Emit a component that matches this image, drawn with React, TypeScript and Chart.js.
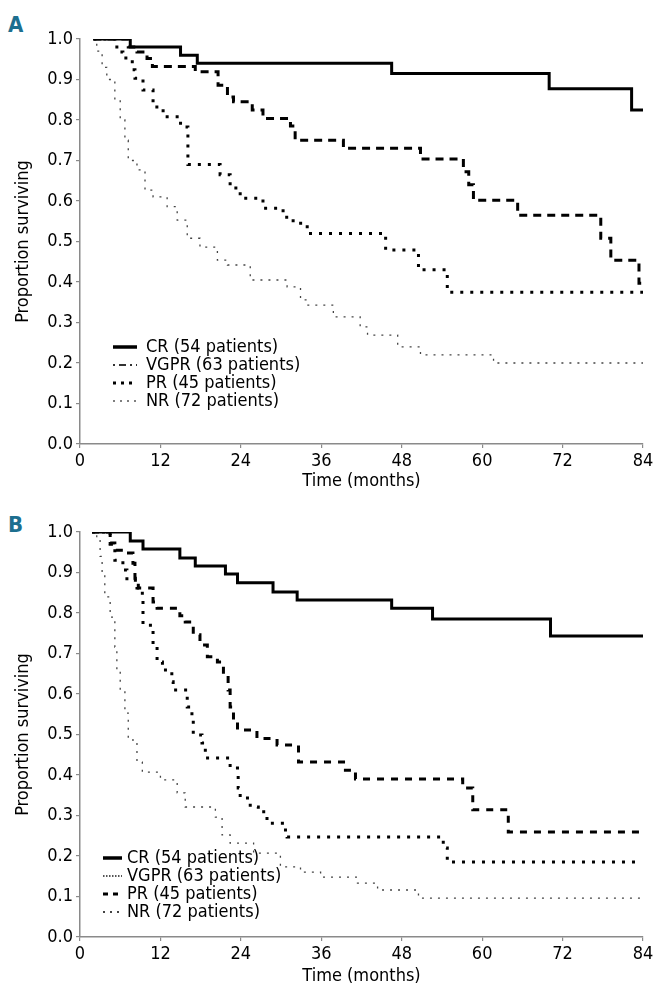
import React, { useEffect, useRef } from 'react';
import { Chart, registerables } from 'chart.js';

Chart.register(...registerables);

const FONT = "'Liberation Sans Narrow', 'DejaVu Sans Condensed', 'Arial Narrow', 'Liberation Sans', sans-serif";

// ---- shared ----
const seriesNames = ['CR (54 patients)', 'VGPR (63 patients)', 'PR (45 patients)', 'NR (72 patients)'];
const xTicks = [0, 12, 24, 36, 48, 60, 72, 84];
const yTicks = [0, 0.1, 0.2, 0.3, 0.4, 0.5, 0.6, 0.7, 0.8, 0.9, 1.0];
const xTitle = 'Time (months)';
const yTitle = 'Proportion surviving';

// ---- Panel A ----
const aCrTime = [2, 7.5, 15, 17.5, 46.5, 70, 82.3, 84];
const aCrSurv = [1.0, 0.98, 0.96, 0.94, 0.915, 0.877, 0.825, 0.825];
const aVgprTime = [2, 7.2, 8.5, 10, 10.8, 17.2, 20.6, 22, 22.9, 25.7, 27.3, 31.4, 32.1, 39.3, 50.8, 57.2, 58, 58.7, 65.3, 77.7, 79.2, 83.4, 84];
const aVgprSurv = [1.0, 0.98, 0.968, 0.952, 0.932, 0.919, 0.886, 0.857, 0.845, 0.825, 0.804, 0.785, 0.75, 0.73, 0.704, 0.672, 0.64, 0.602, 0.565, 0.508, 0.454, 0.397, 0.397];
const aPrTime = [2, 5.5, 6.4, 7.8, 8.2, 9.4, 10.9, 12.4, 15, 16.1, 20.9, 22.4, 23.9, 27.3, 30.3, 31.8, 33.9, 45.6, 50.5, 54.8, 84];
const aPrSurv = [1.0, 0.968, 0.953, 0.924, 0.903, 0.874, 0.832, 0.808, 0.783, 0.69, 0.665, 0.632, 0.607, 0.582, 0.56, 0.545, 0.52, 0.479, 0.43, 0.375, 0.375];
const aNrTime = [2, 2.5, 3.3, 4, 5.2, 6, 6.7, 7.2, 8.5, 9.7, 10.9, 13, 14.5, 16, 17.9, 20.5, 22, 25.4, 30.9, 32.9, 33.9, 37.8, 41.8, 42.9, 47.4, 50.8, 61.7, 84];
const aNrSurv = [1.0, 0.97, 0.93, 0.9, 0.85, 0.8, 0.75, 0.7, 0.677, 0.627, 0.61, 0.586, 0.553, 0.508, 0.486, 0.454, 0.442, 0.405, 0.388, 0.356, 0.343, 0.314, 0.289, 0.269, 0.24, 0.22, 0.2, 0.2];

// ---- Panel B ----
const bCrTime = [1.8, 7.5, 9.4, 14.9, 17.2, 21.7, 23.5, 28.8, 32.4, 46.5, 52.6, 70.2, 84];
const bCrSurv = [1.0, 0.978, 0.958, 0.936, 0.916, 0.896, 0.875, 0.852, 0.832, 0.812, 0.785, 0.743, 0.743];
const bVgprTime = [1.8, 4.5, 5.2, 6.4, 7.9, 8.2, 8.7, 10.9, 11.5, 14.9, 15.7, 16.9, 17.9, 19, 20.5, 21.4, 22.1, 22.4, 22.9, 23.5, 26.4, 29.4, 32.6, 39.6, 41.1, 57.1, 58.6, 63.9, 84];
const bVgprSurv = [1.0, 0.973, 0.955, 0.948, 0.923, 0.886, 0.862, 0.827, 0.812, 0.793, 0.778, 0.746, 0.721, 0.692, 0.679, 0.647, 0.61, 0.568, 0.536, 0.511, 0.49, 0.474, 0.432, 0.412, 0.39, 0.368, 0.314, 0.259, 0.259];
const bPrTime = [1.8, 4.5, 5.2, 6.4, 7, 8.5, 9.3, 9.4, 10.9, 11.5, 12.3, 13.7, 13.9, 16, 16.7, 16.9, 18.2, 18.7, 22.4, 23.5, 23.6, 23.9, 25.4, 26.6, 27.9, 30.2, 30.9, 54.2, 54.8, 83];
const bPrSurv = [1.0, 0.97, 0.93, 0.906, 0.881, 0.862, 0.84, 0.77, 0.721, 0.679, 0.659, 0.63, 0.61, 0.568, 0.536, 0.499, 0.479, 0.442, 0.417, 0.407, 0.368, 0.343, 0.321, 0.309, 0.281, 0.264, 0.247, 0.22, 0.185, 0.185];
const bNrTime = [1.8, 2.5, 3, 3.3, 3.7, 4.5, 5.2, 5.5, 6, 6.7, 7.2, 7.9, 8.5, 9.3, 12, 14.5, 15.7, 20.2, 21.2, 22.4, 25.9, 29.9, 32.9, 35.9, 41.4, 44.4, 50.5, 84];
const bNrSurv = [1.0, 0.983, 0.94, 0.9, 0.84, 0.79, 0.716, 0.659, 0.61, 0.553, 0.49, 0.482, 0.432, 0.407, 0.388, 0.356, 0.321, 0.296, 0.252, 0.232, 0.207, 0.173, 0.16, 0.148, 0.133, 0.116, 0.096, 0.096];

type Style = { color: string; width: number; dash: number[] };

const pts = (t: number[], s: number[]) => t.map((x, i) => ({ x, y: s[i] }));

const kmLegendPlugin = {
  id: 'kmLegend',
  afterDraw(chart: any, _args: any, opts: any) {
    if (!opts || !opts.items) return;
    const { ctx, chartArea } = chart;
    ctx.save();
    ctx.font = `18px ${FONT}`;
    ctx.textBaseline = 'middle';
    ctx.textAlign = 'left';
    opts.items.forEach((it: any, i: number) => {
      const y = chartArea.top + opts.y0 + i * opts.dy;
      ctx.beginPath();
      ctx.setLineDash(it.dash);
      ctx.lineWidth = it.width;
      ctx.strokeStyle = it.color;
      ctx.moveTo(chartArea.left + opts.x0, y);
      ctx.lineTo(chartArea.left + opts.x1, y);
      ctx.stroke();
      ctx.setLineDash([]);
      ctx.fillStyle = '#000';
      ctx.fillText(it.label, chartArea.left + opts.tx, y);
    });
    ctx.restore();
  },
};

interface PanelProps {
  top: number;
  height: number;
  padTop: number;
  xAxisH: number;
  titlePadBottom: number;
  series: { x: number; y: number }[][];
  styles: Style[];
  legendStyles: Style[];
  legendPos: { x0: number; x1: number; tx: number; y0: number; dy: number };
}

function Panel(p: PanelProps) {
  const ref = useRef<HTMLCanvasElement>(null);
  useEffect(() => {
    if (!ref.current) return;
    const tickFont = { family: FONT, size: 18 };
    const chart = new Chart(ref.current, {
      type: 'line',
      data: {
        datasets: p.series.map((d, i) => ({
          label: seriesNames[i],
          data: d,
          stepped: 'before' as const,
          borderColor: p.styles[i].color,
          borderWidth: p.styles[i].width,
          borderDash: p.styles[i].dash,
          borderCapStyle: 'butt' as const,
          pointRadius: 0,
          fill: false,
          tension: 0,
        })),
      },
      options: {
        animation: false,
        responsive: false,
        maintainAspectRatio: false,
        layout: { padding: { left: 0, right: 27, top: p.padTop, bottom: 0 } },
        plugins: {
          legend: { display: false },
          tooltip: { enabled: false },
          // @ts-ignore
          kmLegend: {
            ...p.legendPos,
            items: seriesNames.map((label, i) => ({ label, ...p.legendStyles[i] })),
          },
        },
        scales: {
          x: {
            type: 'linear',
            min: 0,
            max: 84,
            afterBuildTicks: (s: any) => {
              s.ticks = xTicks.map((v) => ({ value: v }));
            },
            afterFit: (s: any) => {
              s.height = p.xAxisH;
            },
            ticks: { font: tickFont, color: '#000', padding: 3, maxRotation: 0, autoSkip: false },
            grid: { drawOnChartArea: false, drawTicks: true, tickLength: 4, color: '#8a8a8a', lineWidth: 1.2 },
            border: { display: true, color: '#8a8a8a', width: 1.5 },
            title: { display: true, text: xTitle, font: tickFont, color: '#000', padding: { top: 0, bottom: p.titlePadBottom } },
          },
          y: {
            type: 'linear',
            min: 0,
            max: 1,
            afterBuildTicks: (s: any) => {
              s.ticks = yTicks.map((v) => ({ value: v }));
            },
            afterFit: (s: any) => {
              s.width = 80;
            },
            ticks: { font: tickFont, color: '#000', padding: 3, callback: (v: any) => Number(v).toFixed(1) },
            grid: { drawOnChartArea: false, drawTicks: true, tickLength: 4, color: '#8a8a8a', lineWidth: 1.2 },
            border: { display: true, color: '#8a8a8a', width: 1.5 },
            title: { display: true, text: yTitle, font: tickFont, color: '#000', padding: { top: 13, bottom: 0 } },
          },
        },
      },
      plugins: [kmLegendPlugin],
    } as any);
    return () => chart.destroy();
  }, []);
  return (
    <canvas
      ref={ref}
      width={670}
      height={p.height}
      style={{ position: 'absolute', left: 0, top: p.top, width: 670, height: p.height, display: 'block' }}
    />
  );
}

const labelStyle: React.CSSProperties = {
  position: 'absolute',
  left: 8,
  fontFamily: FONT,
  fontWeight: 'bold',
  fontSize: 22,
  lineHeight: '22px',
  color: '#1d6f8f',
};

export default function App() {
  const stylesA: Style[] = [
    { color: '#000', width: 3, dash: [] },
    { color: '#000', width: 3, dash: [8, 6] },
    { color: '#000', width: 3, dash: [3, 7] },
    { color: '#444', width: 1.3, dash: [2, 6] },
  ];
  const legendA: Style[] = [
    { color: '#000', width: 3.5, dash: [] },
    { color: '#333', width: 2, dash: [2, 4, 7, 4] },
    { color: '#000', width: 3, dash: [3, 5] },
    { color: '#555', width: 1.5, dash: [2, 5] },
  ];
  const stylesB: Style[] = [
    { color: '#000', width: 3, dash: [] },
    { color: '#000', width: 3, dash: [7, 7] },
    { color: '#000', width: 3, dash: [3, 7] },
    { color: '#444', width: 1.3, dash: [2, 6] },
  ];
  const legendB: Style[] = [
    { color: '#000', width: 3.5, dash: [] },
    { color: '#555', width: 2, dash: [1.5, 1.5] },
    { color: '#000', width: 3, dash: [5, 5] },
    { color: '#444', width: 2, dash: [2, 5] },
  ];
  return (
    <div style={{ position: 'absolute', left: 0, top: 0, width: 670, height: 993, overflow: 'hidden', background: '#fff' }}>
      <div style={{ ...labelStyle, top: 14 }}>A</div>
      <div style={{ ...labelStyle, top: 514 }}>B</div>
      <Panel
        top={0}
        height={496}
        padTop={39}
        xAxisH={52}
        titlePadBottom={4}
        series={[pts(aCrTime, aCrSurv), pts(aVgprTime, aVgprSurv), pts(aPrTime, aPrSurv), pts(aNrTime, aNrSurv)]}
        styles={stylesA}
        legendStyles={legendA}
        legendPos={{ x0: 33, x1: 57, tx: 66, y0: 308, dy: 18 }}
      />
      <Panel
        top={496}
        height={497}
        padTop={36}
        xAxisH={56}
        titlePadBottom={6}
        series={[pts(bCrTime, bCrSurv), pts(bVgprTime, bVgprSurv), pts(bPrTime, bPrSurv), pts(bNrTime, bNrSurv)]}
        styles={stylesB}
        legendStyles={legendB}
        legendPos={{ x0: 23, x1: 42, tx: 47, y0: 326, dy: 18 }}
      />
    </div>
  );
}
